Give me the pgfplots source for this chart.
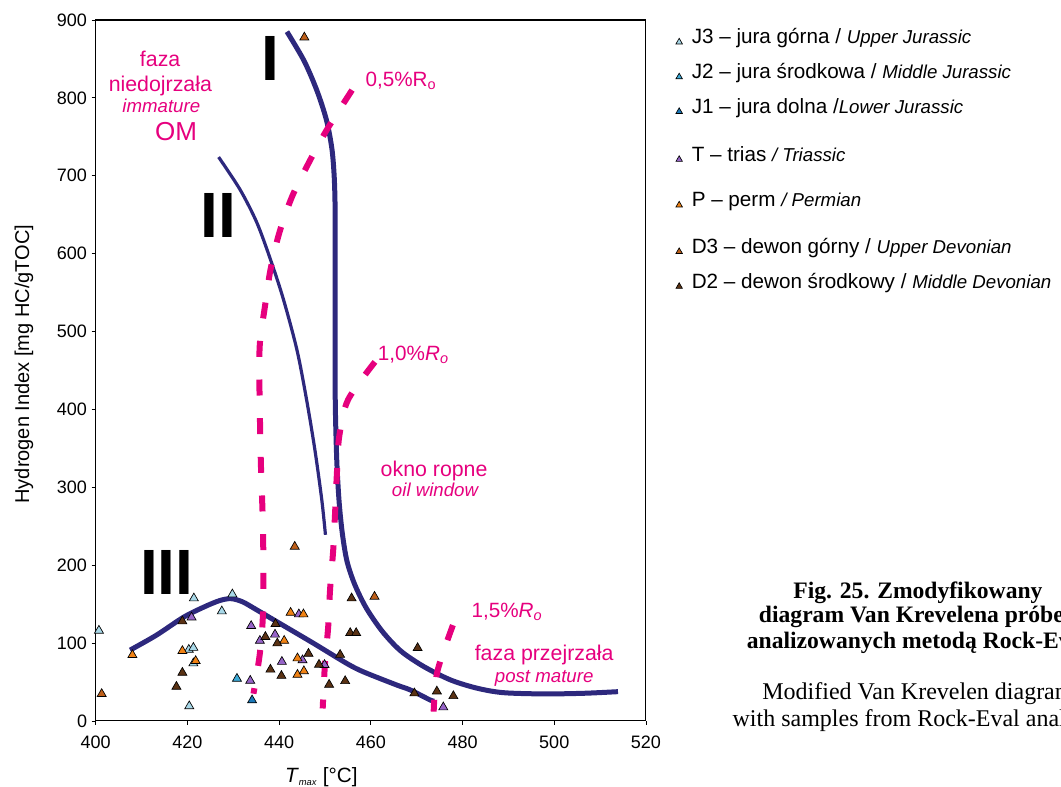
\documentclass[border=0pt]{standalone}
\usepackage{pgfplots}
\pgfplotsset{compat=1.18}
\usepackage{fontspec}
\setmainfont{Liberation Sans}
\newfontfamily\capfont{Liberation Serif}

\definecolor{navy}{RGB}{45,40,125}
\definecolor{pinkk}{RGB}{230,0,126}
\definecolor{cJ3}{RGB}{168,216,232}
\definecolor{cJ2}{RGB}{60,170,215}
\definecolor{cJ1}{RGB}{25,120,185}
\definecolor{cT}{RGB}{150,100,200}
\definecolor{cP}{RGB}{240,130,20}
\definecolor{cD3}{RGB}{190,95,25}
\definecolor{cD2}{RGB}{90,50,20}

\newcommand{\fs}[1]{\fontsize{#1}{#1}\selectfont}
\newcommand{\lstrut}[1]{\rule[-#1]{0pt}{16pt}}
\newcommand{\itx}[1]{{\fs{14}\itshape #1}}

\pgfplotsset{
  samp/.style={only marks, mark=triangle*, mark size=3.9pt,
    mark options={fill=#1, draw=black, line width=0.5pt}},
  rodash/.style={pinkk, line width=4.5pt, smooth, dash pattern=on 12pt off 17pt},
}
\tikzset{lab/.style={pinkk, inner sep=0pt}}

\begin{document}
\begin{tikzpicture}
\begin{axis}[
  scale only axis, width=412.7pt, height=525.75pt,
  xmin=400, xmax=520, ymin=0, ymax=900,
  xtick={400,420,...,520}, ytick={0,100,...,900},
  tick align=outside, xtick pos=left, ytick pos=left,
  major tick length=3pt,
  tick style={black, line width=0.6pt},
  axis line style={line width=0.8pt},
  every tick label/.append style={font=\fs{13.5}},
  xticklabel style={yshift=-4.5pt},
  /pgf/number format/assume math mode=true,
  clip=false,
  xlabel={\textit{T}\textsubscript{\fs{7}\itshape max} [°C]},
  xlabel style={at={(axis description cs:0.41,0)}, anchor=base, yshift=-46.5pt, font=\fs{15.5}},
  ylabel={Hydrogen Index [mg HC/gTOC]},
  ylabel style={at={(axis description cs:-0.1303,0.509)}, anchor=center, font=\fs{15}},
  legend style={draw=none, fill=none, at={(axis description cs:1.0545,0.9876)},
    anchor=north west, inner sep=0pt, outer sep=0pt, row sep=0pt, column sep=7pt,
    cells={anchor=base west},
    nodes={inner sep=0pt, outer sep=0pt, text depth=, text height=},
    font=\fs{15.5}},
  legend image code/.code={\draw[#1, mark size=2.8pt] plot coordinates {(0pt,1.4pt)};},
]
\coordinate (bl) at (rel axis cs:0,0);

% curve I
\addplot[navy, line width=3.75pt, smooth, forget plot] coordinates {
(441.7,885) (445.4,848) (448.2,810) (450.3,772) (451.5,735) (452.0,700)
(452.2,660) (452.2,600) (452.2,520) (452.2,440) (452.3,390) (452.6,330)
(453.1,280) (453.8,240) (454.8,205) (456.5,175) (459.0,145) (462.5,115)
(466.5,90) (471.5,70) (477.4,52.6) (483.2,42) (488.9,36.3) (497.7,34.7)
(506.4,35.5) (513.9,37.6)
};
% curve II
\addplot[navy, line width=2.4pt, smooth, forget plot] coordinates {
(426.8,724) (431.5,682) (435.2,639) (438.4,587.5) (441.0,540) (443.9,476)
(446.0,412) (447.8,348) (449.3,284) (450.1,239)
};
% curve III
\addplot[navy, line width=3.75pt, smooth, forget plot] coordinates {
(407.5,91) (413.2,110) (419.1,133) (423.5,146) (427.0,154.5) (429.5,157)
(432.0,153) (435.0,143) (440.2,125) (447.5,99.7) (454.7,74) (458.4,63)
(465.7,46) (468.6,39.8) (472.9,27) (473.9,25.5)
};

% vitrinite reflectance lines
\addplot[rodash, forget plot] coordinates {
(455.9,810) (450.4,759) (446.4,716) (442.8,673) (440.0,626) (438.1,579)
(436.9,532) (435.8,485) (435.7,433) (436.0,335) (436.5,241) (436.5,142.5)
(435.8,87) (434.4,35)
};
\addplot[rodash, forget plot] coordinates {
(460.9,461) (455.0,412) (453.1,365) (452.6,318) (452.2,267) (451.8,220)
(451.1,168) (450.7,121) (450.0,74) (449.5,16)
};
\addplot[rodash, forget plot] coordinates {
(477.9,123) (474.5,63.3) (473.7,12)
};

% samples
\addplot[samp=cJ3] coordinates {
(400.7,116) (421.4,157.5) (427.5,140.8) (429.8,162.6) (420.3,91.5)
(421.3,94) (421.3,74) (420.4,19)
};
\addlegendentry{\lstrut{14.75pt}J3 – jura górna / \itx{Upper Jurassic}}
\addplot[samp=cJ2] coordinates {(430.8,54.3)};
\addlegendentry{\lstrut{14.75pt}J2 – jura środkowa / \itx{Middle Jurassic}}
\addplot[samp=cJ1] coordinates {(434.1,26.6)};
\addlegendentry{\lstrut{24.75pt}J1 – jura dolna /\itx{Lower Jurassic}}
\addplot[samp=cT] coordinates {
(420.9,133) (433.7,51.7) (433.9,122) (435.8,103) (439.1,111) (444.3,137)
(440.6,76) (445.1,78) (449.9,72) (475.8,17.6)
};
\addlegendentry{\lstrut{23.5pt}T – trias \itx{/ Triassic}}
\addplot[samp=cP] coordinates {
(408.0,84.7) (418.9,89.9) (421.8,77) (441.1,103) (442.5,139) (445.3,137)
(444.0,80.5) (444.0,59.4) (445.4,64)
};
\addlegendentry{\lstrut{23.5pt}P – perm \itx{/ Permian}}
\addplot[samp=cD3] coordinates {
(401.3,34.7) (443.4,223.8) (460.8,159.6) (445.5,877.7)
};
\addlegendentry{\lstrut{14.75pt}D3 – dewon górny / \itx{Upper Devonian}}
\addplot[samp=cD2] coordinates {
(418.9,128) (417.6,44) (418.9,62) (437.0,108) (439.2,124.5) (439.6,99.7)
(438.1,66) (440.5,58) (446.4,86.4) (448.7,72.3) (450.9,46.6) (453.3,85)
(454.4,51.3) (455.8,157.5) (455.5,113) (456.8,113) (470.2,93.7)
(469.5,35.5) (474.4,38) (478.0,32)
};
\addlegendentry{\lstrut{14.75pt}D2 – dewon środkowy / \itx{Middle Devonian}}

% kerogen types
\node[font=\fs{48}\bfseries, inner sep=0pt] at (axis cs:438.1,850) {I};
\node[font=\fs{48}\bfseries, inner sep=0pt] at (axis cs:426.7,648.5) {II};
\node[font=\fs{48}\bfseries, inner sep=0pt] at (axis cs:415.5,190.2) {III};

% zones
\node[lab, anchor=base, font=\fs{16}] at (axis cs:414.05,840) {faza};
\node[lab, anchor=base, font=\fs{16}] at (axis cs:414.1,808.7) {niedojrzała};
\node[lab, anchor=base, font=\fs{14}\itshape] at (axis cs:414.3,781.4) {immature};
\node[lab, anchor=base, font=\fs{19.5}] at (axis cs:417.5,745) {OM};
\node[lab, anchor=base west, font=\fs{15.5}] at (axis cs:458.8,814.2) {0,5\%R\textsubscript{o}};
\node[lab, anchor=base, font=\fs{16}] at (axis cs:473.8,314.5) {okno ropne};
\node[lab, anchor=base, font=\fs{14}\itshape] at (axis cs:474.0,288) {oil window};
\node[lab, anchor=base west, font=\fs{15.5}] at (axis cs:461.5,462.5) {1,0\%\textit{R}\textsubscript{\itshape o}};
\node[lab, anchor=base west, font=\fs{15.5}] at (axis cs:481.9,133.1) {1,5\%\textit{R}\textsubscript{\itshape o}};
\node[lab, anchor=base, font=\fs{16}] at (axis cs:497.8,77.4) {faza przejrzała};
\node[lab, anchor=base, font=\fs{14}\itshape] at (axis cs:497.8,49.2) {post mature};

% caption
\node[anchor=base, inner sep=0pt, font=\capfont\bfseries\fs{17.7}] at (axis description cs:1.4943,0.1740) {Fig. 25. Zmodyfikowany};
\node[anchor=base, inner sep=0pt, font=\capfont\bfseries\fs{17.7}] at (axis description cs:1.4943,0.1398) {diagram Van Krevelena próbek};
\node[anchor=base, inner sep=0pt, font=\capfont\bfseries\fs{17.7}] at (axis description cs:1.4943,0.1027) {analizowanych metodą Rock-Eval};
\node[anchor=base, inner sep=0pt, font=\capfont\fs{18}] at (axis description cs:1.4943,0.0300) {Modified Van Krevelen diagram};
\node[anchor=base, inner sep=0pt, font=\capfont\fs{18}] at (axis description cs:1.4943,-0.0086) {with samples from Rock-Eval analysis};
\end{axis}
\pgfresetboundingbox
\path[use as bounding box] ([xshift=-71.8pt,yshift=-49.5pt]bl) rectangle ([xshift=724pt,yshift=540.75pt]bl);
\end{tikzpicture}
\end{document}
